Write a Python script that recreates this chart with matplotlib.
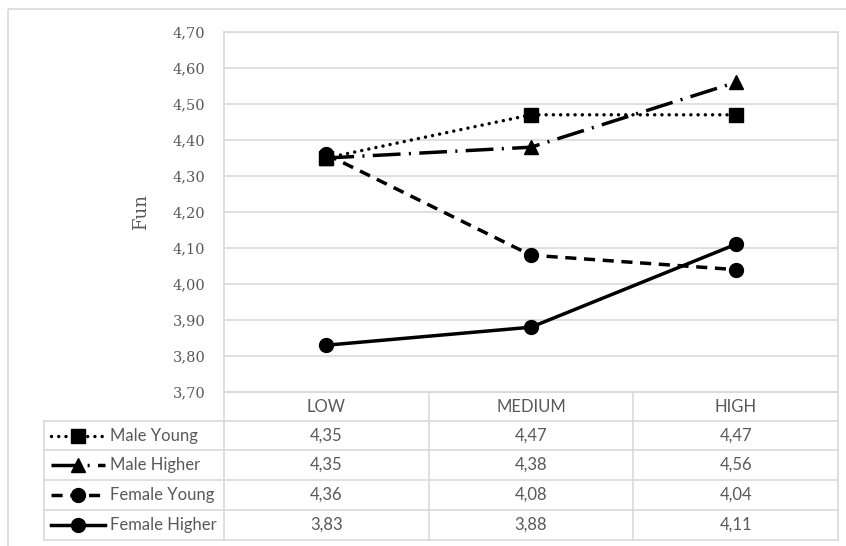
import matplotlib
matplotlib.use("Agg")
import matplotlib.pyplot as plt
from matplotlib.lines import Line2D
from matplotlib.patches import Rectangle
from matplotlib.transforms import blended_transform_factory

plt.rcParams["lines.scale_dashes"] = False

categories = ["LOW", "MEDIUM", "HIGH"]
series_names = ["Male Young", "Male Higher", "Female Young", "Female Higher"]
male_young = [4.35, 4.47, 4.47]
male_higher = [4.35, 4.38, 4.56]
female_young = [4.36, 4.08, 4.04]
female_higher = [3.83, 3.88, 4.11]
y_ticks = [3.70, 3.80, 3.90, 4.00, 4.10, 4.20, 4.30, 4.40, 4.50, 4.60, 4.70]

series_values = [male_young, male_higher, female_young, female_higher]
styles = [
    dict(linestyle=(0, (0.01, 5.2)), marker="s", dash_capstyle="round"),
    dict(linestyle=(0, (20, 6, 1.5, 6)), marker="^", dash_capstyle="butt"),
    dict(linestyle=(0, (8, 5.5)), marker="o", dash_capstyle="butt"),
    dict(linestyle="-", marker="o", dash_capstyle="butt"),
]

W, H = 846, 546
fig = plt.figure(figsize=(W / 100, H / 100), dpi=100)

# overlay in pixel units for borders, table rows and legend keys
ov = fig.add_axes([0, 0, 1, 1], zorder=0)
ov.set_xlim(0, W)
ov.set_ylim(H, 0)
ov.axis("off")

grid_c = "#d9d9d9"
text_c = "#595959"

ov.add_patch(Rectangle((8, 9), 850, 550, fill=False, ec=grid_c, lw=1.2))

px_left, px_right, px_top, px_bottom = 224, 838, 32, 392
ax = fig.add_axes([px_left / W, 1 - px_bottom / H,
                   (px_right - px_left) / W, (px_bottom - px_top) / H], zorder=2)
ax.patch.set_alpha(0)
ax.set_xlim(-0.5, len(categories) - 0.5)
ax.set_ylim(y_ticks[0], y_ticks[-1])
ax.set_yticks(y_ticks)
ax.set_yticklabels([f"{v:.2f}".replace(".", ",") for v in y_ticks],
                   family="DejaVu Serif", fontsize=10.5, color=text_c)
ax.tick_params(axis="y", length=0, pad=13.5)
ax.set_xticks([])
ax.grid(axis="y", color=grid_c, lw=1.2)
ax.set_axisbelow(True)
for s in ["top", "right", "left", "bottom"]:
    ax.spines[s].set_color(grid_c)
    ax.spines[s].set_linewidth(1.2)
ax.set_ylabel("Fun", family="DejaVu Serif", fontsize=13, color=text_c, labelpad=16)

xs = list(range(len(categories)))
for vals, st in zip(series_values, styles):
    ax.plot(xs, vals, color="black", lw=2.5, markersize=10,
            linestyle=st["linestyle"], marker=st["marker"],
            dash_capstyle=st["dash_capstyle"], clip_on=False)

# data table below the plot
row_edges = [392, 421, 450, 480, 510, 540]
tab_left = 44
bt = blended_transform_factory(ax.transData, ov.transData)
lc = dict(color=grid_c, lw=1.2)
# horizontal rules
ov.plot([px_left, px_right], [row_edges[0]] * 2, **lc)
for y in row_edges[1:]:
    ov.plot([tab_left, px_right], [y, y], **lc)
# vertical rules
ov.plot([tab_left, tab_left], [row_edges[1], row_edges[-1]], **lc)
ov.plot([px_left, px_left], [row_edges[0], row_edges[-1]], **lc)
ov.plot([px_right, px_right], [row_edges[0], row_edges[-1]], **lc)
for b in [i + 0.5 for i in xs[:-1]]:
    ov.plot([b, b], [row_edges[0], row_edges[-1]], transform=bt, **lc)

font_tab = dict(family="Lato", fontsize=12, color=text_c, va="center")
for i, cat in enumerate(categories):
    ov.text(i, (row_edges[0] + row_edges[1]) / 2, cat, ha="center", transform=bt, **font_tab)
for r, (name, vals, st) in enumerate(zip(series_names, series_values, styles)):
    yc = (row_edges[r + 1] + row_edges[r + 2]) / 2
    for i, v in enumerate(vals):
        ov.text(i, yc, f"{v:.2f}".replace(".", ","), ha="center", transform=bt, **font_tab)
    ov.text(110, yc, name, ha="left", **font_tab)
    ov.add_line(Line2D([51, 105], [yc, yc], color="black", lw=2.5,
                       linestyle=st["linestyle"], dash_capstyle=st["dash_capstyle"]))
    ov.add_line(Line2D([78], [yc], color="black", marker=st["marker"], markersize=10,
                       linestyle="none"))

fig.savefig("out.png", dpi=100)
